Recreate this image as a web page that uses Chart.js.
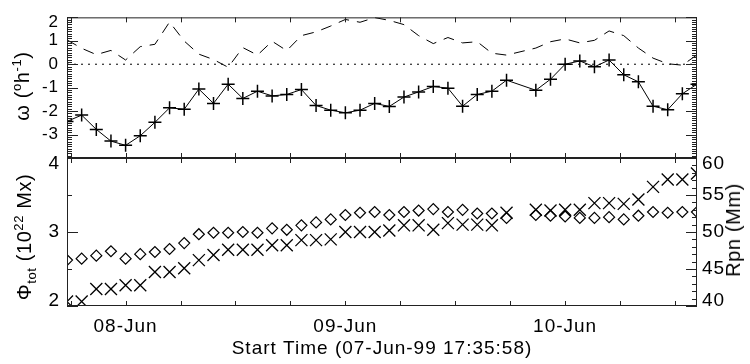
<!DOCTYPE html>
<html lang="en">
<head>
    <meta charset="UTF-8">
    <title>Rotation rate and flux, 07-10 Jun 1999</title>
    <script src="https://cdn.jsdelivr.net/npm/chart.js"></script>
    <style>
        body {
            margin: 0;
            background: #fff;
        }
        .wrap {
            position: relative;
            width: 750px;
            height: 364px;
            font-family: 'Liberation Sans', Arial, sans-serif;
        }
        .wrap canvas {
            position: absolute;
            left: 0;
            top: 0;
        }
        .ytitle {
            position: absolute;
            font-size: 20px;
            line-height: 1;
            letter-spacing: 0.6px;
            white-space: nowrap;
            color: #000;
            transform: translate(-50%, -50%) rotate(-90deg);
        }
        .ytitle sup, .ytitle sub {
            font-size: 13px;
        }
    </style>
</head>
<body>
    <div class="wrap">
        <canvas id="topChart" width="750" height="364"></canvas>
        <canvas id="bottomChart" width="750" height="364"></canvas>
        <div class="ytitle" style="left:21px; top:86px;">ω (<sup>o</sup>h<sup>-1</sup>)</div>
        <div class="ytitle" style="left:25px; top:237px;">Φ<sub>tot</sub> (10<sup>22</sup> Mx)</div>
        <div class="ytitle" style="left:733px; top:230px;">Rpn (Mm)</div>
    </div>

    <script>
        // hours after 07-Jun-99 00:00, one magnetogram every 96 min (one missing near 67 h)
        const hours = [17.6, 19.2, 20.8, 22.4, 24.0, 25.6, 27.2, 28.8, 30.4, 32.0, 33.6, 35.2, 36.8, 38.4, 40.0, 41.6,
                       43.2, 44.8, 46.4, 48.0, 49.6, 51.2, 52.8, 54.4, 56.0, 57.6, 59.2, 60.8, 62.4, 64.0, 65.6,
                       68.8, 70.4, 72.0, 73.6, 75.2, 76.8, 78.4, 80.0, 81.6, 83.2, 84.8, 86.4];

        // top panel: rotation rate (solid with +) and the dashed curve
        const omega = [-2.44, -2.17, -2.78, -3.28, -3.46, -3.05, -2.48, -1.86, -1.92, -1.06, -1.67, -0.85, -1.46, -1.15, -1.35, -1.29,
                       -1.08, -1.76, -1.96, -2.07, -1.96, -1.67, -1.80, -1.40, -1.18, -0.95, -1.02, -1.79, -1.29, -1.15, -0.68,
                       -1.11, -0.64, 0.00, 0.14, -0.11, 0.18, -0.45, -0.75, -1.79, -1.94, -1.26, -0.85];
        const omegaDashed = [1.04, 0.68, 0.41, 0.59, 0.18, 0.75, 0.85, 1.80, 0.99, 0.43, 0.20, -0.13, 0.71, 0.39, 0.98, 0.58,
                             1.22, 1.38, 1.63, 1.91, 1.79, 1.99, 1.87, 1.69, 1.22, 0.88, 1.14, 0.91, 0.96, 0.47, 0.39,
                             0.69, 0.96, 1.08, 0.91, 1.02, 1.42, 1.22, 0.69, 0.26, 0.02, -0.04, 0.40];

        // bottom panel: total flux (diamonds, left axis) and Rpn (x, right axis)
        const phiTot = [2.62, 2.64, 2.68, 2.74, 2.64, 2.70, 2.73, 2.77, 2.85, 2.97, 2.99, 2.99, 3.00, 2.99, 3.05, 3.03,
                        3.09, 3.13, 3.17, 3.23, 3.26, 3.27, 3.23, 3.27, 3.29, 3.31, 3.27, 3.30, 3.25, 3.25, 3.19,
                        3.23, 3.22, 3.21, 3.19, 3.19, 3.20, 3.17, 3.22, 3.27, 3.26, 3.27, 3.27];
        const rpn = [40.6, 40.6, 42.3, 42.3, 42.8, 42.8, 44.6, 44.6, 45.1, 46.2, 46.9, 47.6, 47.6, 47.6, 48.2, 48.2,
                     48.9, 48.9, 49.0, 50.0, 50.0, 50.0, 50.2, 50.9, 50.9, 50.3, 51.2, 51.0, 51.0, 50.9, 52.6,
                     53.0, 52.9, 53.0, 53.0, 53.9, 53.9, 53.8, 54.4, 56.1, 57.1, 57.1, 57.9];

        const xTickHours = [24, 48, 72];
        const xTickLabels = ['08-Jun', '09-Jun', '10-Jun'];
        const xTitle = 'Start Time (07-Jun-99 17:35:58)';

        const FONT = "'Liberation Sans', Arial, sans-serif";
        const xMin = hours[0];
        const xMax = hours[hours.length - 1];

        function pts(ys) {
            return hours.map((h, i) => ({ x: h, y: ys[i] }));
        }

        // end labels sit a little inside the box, as in the original plot:
        // a blank second line (with a small lineHeight) nudges them by ~6px
        function edgeLabel(min, max) {
            return v => {
                if (v === max) return ['', String(v)];
                if (v === min) return [String(v), ''];
                return String(v);
            };
        }

        // the original font is set wide, so space the letters a bit
        const wideText = {
            id: 'wideText',
            beforeLayout(chart) { chart.ctx.letterSpacing = '1px'; },
            beforeDraw(chart) { chart.ctx.letterSpacing = '1px'; }
        };

        // box around the plot area plus IDL-style ticks pointing inward
        const inwardTicks = {
            id: 'inwardTicks',
            afterDraw(chart, args, opts) {
                const ctx = chart.ctx;
                const a = chart.chartArea;
                ctx.save();
                ctx.strokeStyle = '#222';
                ctx.lineWidth = 1;
                ctx.strokeRect(a.left + 0.5, a.top + 0.5, a.right - a.left - 1, a.bottom - a.top - 1);
                ctx.beginPath();
                (opts.marks || []).forEach(m => {
                    const scale = chart.scales[m.scale];
                    const n = Math.round((m.to - m.from) / m.step);
                    for (let i = 0; i <= n; i++) {
                        const p = Math.round(scale.getPixelForValue(m.from + i * m.step)) + 0.5;
                        m.sides.forEach(side => {
                            if (side === 'bottom') { ctx.moveTo(p, a.bottom); ctx.lineTo(p, a.bottom - m.len); }
                            if (side === 'top') { ctx.moveTo(p, a.top); ctx.lineTo(p, a.top + m.len); }
                            if (side === 'left') { ctx.moveTo(a.left, p); ctx.lineTo(a.left + m.len, p); }
                            if (side === 'right') { ctx.moveTo(a.right, p); ctx.lineTo(a.right - m.len, p); }
                        });
                    }
                });
                ctx.stroke();
                ctx.restore();
            }
        };

        const xTickMarks = { scale: 'x', from: 18, to: 84, step: 6, len: 5, sides: ['top', 'bottom'] };

        // ---------- top panel ----------
        new Chart(document.getElementById('topChart'), {
            type: 'line',
            data: {
                datasets: [
                    {
                        data: pts(omega),
                        borderColor: '#000',
                        borderWidth: 1,
                        pointStyle: 'cross',
                        pointRadius: 6.5,
                        pointBorderWidth: 1.5,
                        pointBorderColor: '#000',
                        tension: 0
                    },
                    {
                        data: pts(omegaDashed),
                        borderColor: '#000',
                        borderWidth: 1,
                        borderDash: [11, 8],
                        pointRadius: 0,
                        tension: 0
                    },
                    {
                        data: [{ x: xMin, y: 0 }, { x: xMax, y: 0 }],
                        borderColor: '#000',
                        borderWidth: 1,
                        borderDash: [2, 5],
                        pointRadius: 0
                    }
                ]
            },
            options: {
                responsive: false,
                animation: false,
                layout: { padding: { top: 11, right: 53, bottom: 364 - 158, left: 0 } },
                plugins: {
                    legend: { display: false },
                    tooltip: { enabled: false },
                    inwardTicks: {
                        marks: [
                            xTickMarks,
                            { scale: 'y', from: -4, to: 2, step: 1, len: 11, sides: ['left', 'right'] },
                            { scale: 'y', from: -4, to: 2, step: 0.1, len: 5, sides: ['left', 'right'] }
                        ]
                    }
                },
                scales: {
                    x: { type: 'linear', min: xMin, max: xMax, display: false },
                    y: {
                        min: -4,
                        max: 2,
                        afterFit: s => { s.width = 67; },
                        grid: { display: false, drawTicks: false },
                        border: { display: false },
                        ticks: {
                            stepSize: 1,
                            padding: 8,
                            color: '#000',
                            font: { family: FONT, size: 17, lineHeight: 0.55 },
                            callback: v => (v === -4 ? '' : v === 2 ? ['', '2'] : String(v))
                        }
                    }
                }
            },
            plugins: [wideText, inwardTicks]
        });

        // ---------- bottom panel ----------
        new Chart(document.getElementById('bottomChart'), {
            type: 'line',
            data: {
                datasets: [
                    {
                        data: pts(phiTot),
                        yAxisID: 'y',
                        showLine: false,
                        pointStyle: 'rectRot',
                        pointRadius: 5.5,
                        pointBorderWidth: 1.2,
                        pointBorderColor: '#000',
                        pointBackgroundColor: 'rgba(0,0,0,0)'
                    },
                    {
                        data: pts(rpn),
                        yAxisID: 'yR',
                        showLine: false,
                        pointStyle: 'crossRot',
                        pointRadius: 8.5,
                        pointBorderWidth: 1.3,
                        pointBorderColor: '#000'
                    }
                ]
            },
            options: {
                responsive: false,
                animation: false,
                layout: { padding: { top: 158, right: 0, bottom: 0, left: 0 } },
                plugins: {
                    legend: { display: false },
                    tooltip: { enabled: false },
                    inwardTicks: {
                        marks: [
                            xTickMarks,
                            { scale: 'y', from: 2, to: 4, step: 1, len: 11, sides: ['left'] },
                            { scale: 'y', from: 2, to: 4, step: 0.5, len: 5, sides: ['left'] },
                            { scale: 'yR', from: 40, to: 60, step: 5, len: 11, sides: ['right'] },
                            { scale: 'yR', from: 40, to: 60, step: 1, len: 5, sides: ['right'] }
                        ]
                    }
                },
                scales: {
                    x: {
                        type: 'linear',
                        min: xMin,
                        max: xMax,
                        afterBuildTicks: s => { s.ticks = xTickHours.map(v => ({ value: v })); },
                        afterFit: s => { s.height = 58; },
                        grid: { display: false, drawTicks: false },
                        border: { display: false },
                        ticks: {
                            autoSkip: false,
                            maxRotation: 0,
                            padding: 9,
                            color: '#000',
                            font: { family: FONT, size: 19 },
                            callback: v => xTickLabels[xTickHours.indexOf(v)] || ''
                        },
                        title: {
                            display: true,
                            text: xTitle,
                            color: '#000',
                            font: { family: FONT, size: 19 },
                            padding: { top: 4, bottom: 4 }
                        }
                    },
                    y: {
                        position: 'left',
                        min: 2,
                        max: 4,
                        afterFit: s => { s.width = 67; },
                        grid: { display: false, drawTicks: false },
                        border: { display: false },
                        ticks: {
                            stepSize: 1,
                            padding: 7,
                            color: '#000',
                            font: { family: FONT, size: 19, lineHeight: 0.6 },
                            callback: edgeLabel(2, 4)
                        }
                    },
                    yR: {
                        position: 'right',
                        min: 40,
                        max: 60,
                        afterFit: s => { s.width = 53; },
                        grid: { display: false, drawTicks: false },
                        border: { display: false },
                        ticks: {
                            stepSize: 5,
                            padding: 5,
                            color: '#000',
                            font: { family: FONT, size: 19, lineHeight: 0.6 },
                            callback: edgeLabel(40, 60)
                        }
                    }
                }
            },
            plugins: [wideText, inwardTicks]
        });
    </script>
</body>
</html>
